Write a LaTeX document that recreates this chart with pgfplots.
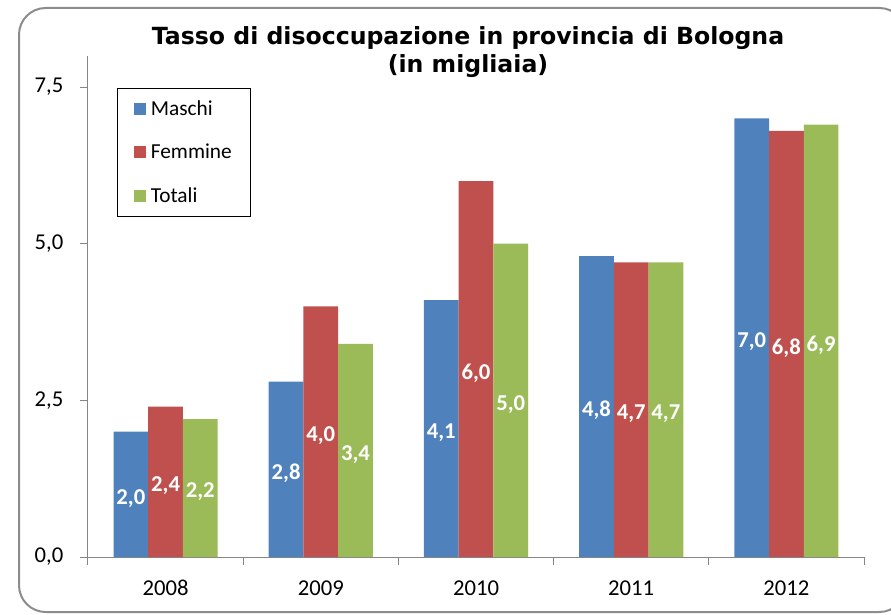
\documentclass[border=0pt]{standalone}
\usepackage{pgfplots}
\pgfplotsset{compat=1.18}
\usepackage{pgfplotstable}
\usepackage{fontspec}
\setmainfont{Carlito}
\newfontfamily\titlefont{DejaVu Sans}
\definecolor{cM}{HTML}{4F81BD}
\definecolor{cF}{HTML}{C0504D}
\definecolor{cT}{HTML}{9BBB59}
\definecolor{axgray}{HTML}{868686}
\definecolor{framegray}{HTML}{8C8C8C}
\pgfplotstableread{
x M F T
0 2.0 2.4 2.2
1 2.8 4.0 3.4
2 4.1 6.0 5.0
3 4.8 4.7 4.7
4 7.0 6.8 6.9
}\datatab
\begin{document}
\begin{tikzpicture}
\begin{axis}[
  at={(66pt,42.75pt)}, anchor=south west,
  scale only axis, width=582pt, height=376pt,
  ybar=0pt, bar width=0.2236,
  xmin=-0.5, xmax=4.5, ymin=0, ymax=8,
  axis lines*=left,
  axis line style={axgray, line width=0.75pt},
  tick align=outside,
  major tick length=6pt,
  tick style={axgray, line width=0.75pt},
  xtick={-0.5,0.5,1.5,2.5,3.5,4.5},
  xticklabels={},
  extra x ticks={0,1,2,3,4},
  extra x tick labels={2008,2009,2010,2011,2012},
  extra x tick style={major tick length=0pt},
  ytick={0,2.5,5,7.5},
  tick label style={font=\fontsize{17}{20}\selectfont, text=black},
  xticklabel style={yshift=-14pt},
  yticklabel style={xshift=-9pt},
  /pgf/number format/fixed,
  /pgf/number format/fixed zerofill,
  /pgf/number format/precision=1,
  /pgf/number format/use comma,
  /pgf/number format/assume math mode=true,
  visualization depends on=rawy \as \rawy,
  nodes near coords,
  nodes near coords style={font=\bfseries\fontsize{17}{20}\selectfont, text=white, anchor=center, yshift=-\rawy*23.5pt-3pt},
  legend cell align=left,
  legend style={at={(0.0374,0.9356)}, anchor=north west, draw=black, line width=0.75pt,
    font=\fontsize{16}{19}\selectfont, row sep=16pt, inner xsep=12pt, inner ysep=7pt},
]
\addplot[fill=cM, draw=none, legend image code/.code={\fill[cM] (0pt,-4.5pt) rectangle (9pt,4.5pt); \path (0pt,0pt) -- (11pt,0pt);}] table[x=x,y=M]{\datatab};
\addplot[fill=cF, draw=none, legend image code/.code={\fill[cF] (0pt,-4.5pt) rectangle (9pt,4.5pt); \path (0pt,0pt) -- (11pt,0pt);}] table[x=x,y=F]{\datatab};
\addplot[fill=cT, draw=none, legend image code/.code={\fill[cT] (0pt,-4.5pt) rectangle (9pt,4.5pt); \path (0pt,0pt) -- (11pt,0pt);}] table[x=x,y=T]{\datatab};
\legend{Maschi,Femmine,Totali}
\end{axis}
\pgfresetboundingbox
\begin{scope}[x=0.75pt,y=0.75pt]
\useasboundingbox (0,0) rectangle (891,614);
\draw[framegray, line width=1.5pt, rounded corners=20pt] (19,2) rectangle (906,606);
\node[font=\titlefont\bfseries\fontsize{17.7}{21}\selectfont, align=center, anchor=base] at (468,541) {Tasso di disoccupazione in provincia di Bologna\\(in migliaia)};
\end{scope}
\end{tikzpicture}
\end{document}
